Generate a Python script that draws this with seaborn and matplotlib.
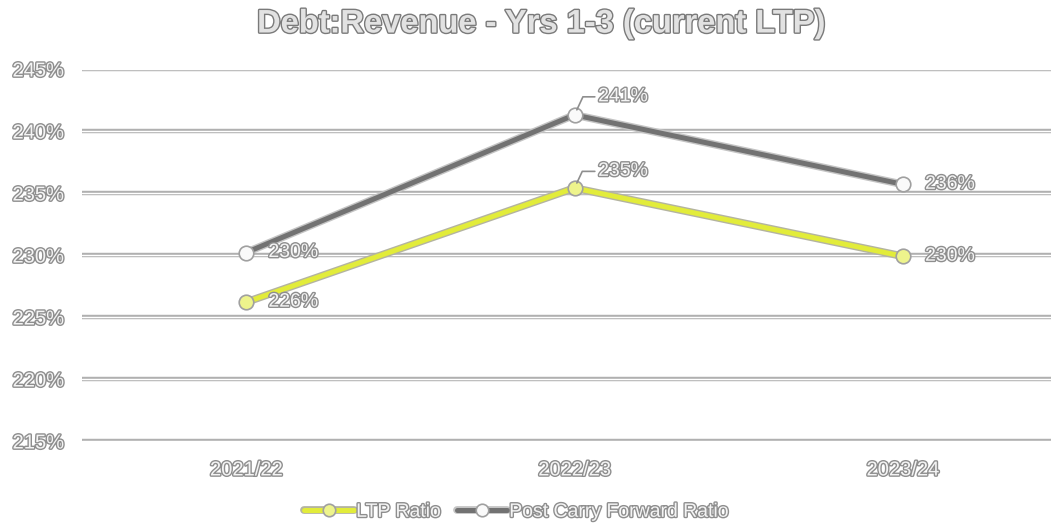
import matplotlib
matplotlib.use("Agg")
import matplotlib.pyplot as plt
import matplotlib.patheffects as pe
from matplotlib.lines import Line2D
from matplotlib.legend_handler import HandlerTuple
import seaborn as sns
import pandas as pd

# Chart data
years = ["2021/22", "2022/23", "2023/24"]
ltp_ratio = [2.262, 2.354, 2.299]
post_cf_ratio = [2.302, 2.413, 2.357]
ltp_labels = ["226%", "235%", "230%"]
post_labels = ["230%", "241%", "236%"]
y_ticks = [2.15, 2.20, 2.25, 2.30, 2.35, 2.40, 2.45]
y_tick_labels = ["215%", "220%", "225%", "230%", "235%", "240%", "245%"]
series_names = ["LTP Ratio", "Post Carry Forward Ratio"]

df = pd.DataFrame({
    "year": years * 2,
    "ratio": ltp_ratio + post_cf_ratio,
    "series": [series_names[0]] * 3 + [series_names[1]] * 3,
})

sns.set_theme(style="white")
plt.rcParams["font.family"] = ["Liberation Sans", "DejaVu Sans"]

fig = plt.figure(figsize=(10.51, 5.25), dpi=100)
ax = fig.add_axes([82 / 1051, 1 - 441 / 525, (1067 - 82) / 1051, (441 - 69) / 525])

line_colors = {series_names[0]: "#e2ec3a", series_names[1]: "#727272"}
line_edges = {series_names[0]: "#b4b4a0", series_names[1]: "#c4c4c4"}
marker_faces = {series_names[0]: "#eef48c", series_names[1]: "#fafafa"}
marker_edge = "#a0a0a0"

sns.lineplot(data=df, x="year", y="ratio", hue="series", palette=line_colors,
             sort=False, linewidth=3.6, legend=False, ax=ax)
for line, name in zip(ax.get_lines()[:2], series_names):
    line.set_path_effects([pe.Stroke(linewidth=5.6, foreground=line_edges[name]), pe.Normal()])

for name in series_names:
    sub = df[df["series"] == name]
    sns.scatterplot(data=sub, x="year", y="ratio", s=110, color=marker_faces[name],
                    edgecolor=marker_edge, linewidth=1.2, zorder=4, legend=False, ax=ax)

ax.set_xlim(-0.5, 2.5)
ax.set_ylim(2.15, 2.45)
ax.set_yticks(y_ticks)
ax.set_yticklabels(y_tick_labels)
ax.set_xlabel("")
ax.set_ylabel("")
for s in ax.spines.values():
    s.set_visible(False)

# Double-edged gridlines
ax.grid(axis="y", color="#ffffff", linewidth=1.0)
ax.grid(axis="x", visible=False)
for gl in ax.get_ygridlines():
    gl.set_path_effects([pe.Stroke(linewidth=3.2, foreground="#b0b0b0"), pe.Normal()])
ax.set_axisbelow(True)

text_fx = [pe.withStroke(linewidth=2.0, foreground="#8e8e8e")]
fill = "#f4f4f4"
ax.tick_params(axis="y", length=0, pad=13, labelsize=14.5, labelcolor=fill)
ax.tick_params(axis="x", length=0, pad=14, labelsize=14.5, labelcolor=fill)
for lab in ax.get_xticklabels() + ax.get_yticklabels():
    lab.set_path_effects(text_fx)

# Data labels
def label(x, y, txt, dx, dy, leader=False):
    kw = {}
    if leader:
        kw["arrowprops"] = dict(arrowstyle="-", color="#8e8e8e", lw=1.2,
                                shrinkA=0, shrinkB=4,
                                connectionstyle="angle,angleA=0,angleB=65,rad=0")
    t = ax.annotate(txt, xy=(x, y), xytext=(dx, dy), textcoords="offset points",
                    ha="left", va="center", fontsize=14, color=fill, zorder=5, **kw)
    t.set_path_effects(text_fx)

label(0, ltp_ratio[0], ltp_labels[0], 16, 0)
label(1, ltp_ratio[1], ltp_labels[1], 17, 12, leader=True)
label(2, ltp_ratio[2], ltp_labels[2], 16, 0)
label(0, post_cf_ratio[0], post_labels[0], 16, 0)
label(1, post_cf_ratio[1], post_labels[1], 17, 13, leader=True)
label(2, post_cf_ratio[2], post_labels[2], 16, 0)

title = fig.text(541 / 1051, 1 - 24 / 525, "Debt:Revenue - Yrs 1-3 (current LTP)",
                 ha="center", va="center", fontsize=23.5, fontweight="bold", color="#e2e2e2")
title.set_path_effects([pe.withStroke(linewidth=2.0, foreground="#7a7a7a")])

# Legend entries: outlined line with a plain marker on top
handles = []
for name in series_names:
    ln = Line2D([], [], color=line_colors[name], linewidth=3.6)
    ln.set_path_effects([pe.Stroke(linewidth=5.6, foreground=line_edges[name]), pe.Normal()])
    mk = Line2D([], [], linestyle="none", marker="o", markersize=9,
                markerfacecolor=marker_faces[name], markeredgecolor=marker_edge,
                markeredgewidth=1.2)
    handles.append((ln, mk))

leg = ax.legend(handles=handles, labels=series_names, loc="center",
                bbox_to_anchor=(517 / 1051, 1 - 512 / 525),
                bbox_transform=fig.transFigure, ncol=2, frameon=False,
                fontsize=14, handlelength=2.6, handletextpad=0.1, columnspacing=0.8,
                handler_map={tuple: HandlerTuple(ndivide=1)})
for txt in leg.get_texts():
    txt.set_color(fill)
    txt.set_path_effects(text_fx)

fig.savefig("out.png", dpi=100)
